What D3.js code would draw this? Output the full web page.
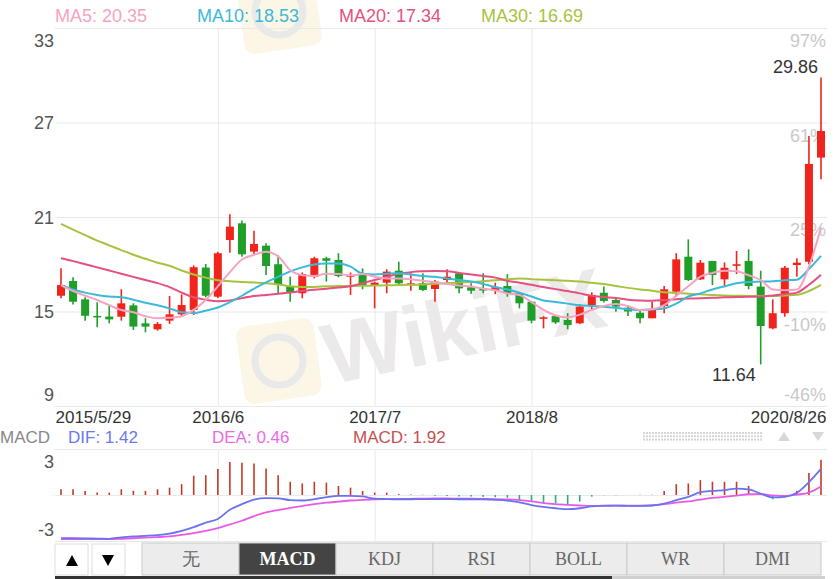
<html>
<head>
<script src="https://d3js.org/d3.v7.min.js"></script>
<style>
  body { margin: 0; background: #fff; }
  text { font-family: "Liberation Sans", Arial, sans-serif; }
  .grid line { stroke: #e9e9e9; stroke-width: 1; }
  .grid .domain { stroke: none; }
  .lbl .domain { stroke: none; }
  .tab text { font-family: "Liberation Serif", "Times New Roman", serif; }
</style>
</head>
<body>
<svg id="k" width="837" height="579"></svg>
<script>
// monthly candles, 2015/5 .. 2020/8
const months = [
  "2015/5","2015/6","2015/7","2015/8","2015/9","2015/10","2015/11","2015/12",
  "2016/1","2016/2","2016/3","2016/4","2016/5","2016/6","2016/7","2016/8","2016/9","2016/10","2016/11","2016/12",
  "2017/1","2017/2","2017/3","2017/4","2017/5","2017/6","2017/7","2017/8","2017/9","2017/10","2017/11","2017/12",
  "2018/1","2018/2","2018/3","2018/4","2018/5","2018/6","2018/7","2018/8","2018/9","2018/10","2018/11","2018/12",
  "2019/1","2019/2","2019/3","2019/4","2019/5","2019/6","2019/7","2019/8","2019/9","2019/10","2019/11","2019/12",
  "2020/1","2020/2","2020/3","2020/4","2020/5","2020/6","2020/7","2020/8"
];
const open  = [16.0,16.94,15.77,14.72,14.68,14.67,15.39,14.25,13.87,14.42,14.82,15.1,17.79,15.94,19.54,20.6,18.8,19.18,18.0,16.58,
  16.16,17.21,18.38,18.27,17.21,17.38,16.68,16.83,17.59,16.74,16.79,16.43,17.0,17.43,16.54,16.43,16.32,16.62,16.16,15.62,
  14.55,14.71,14.46,14.25,15.41,16.19,15.73,15.24,14.92,14.57,15.35,16.26,18.48,17.04,18.21,17.04,17.9,18.21,16.58,13.93,
  14.89,17.95,18.16,24.77];
const close = [16.68,15.62,14.73,14.65,14.5,15.52,14.04,14.04,14.21,14.82,15.41,17.81,16.0,18.7,20.39,18.63,19.29,17.89,16.68,16.19,
  17.38,18.38,18.22,17.25,17.32,16.68,16.83,17.53,16.79,16.79,16.37,16.9,17.21,16.47,16.32,16.37,16.54,16.16,15.52,14.42,
  14.63,14.31,14.14,15.31,16.05,15.67,15.31,15.0,14.57,15.1,16.41,18.31,17.0,18.1,17.32,17.78,18.0,16.62,14.08,14.89,
  17.78,18.1,24.37,26.46];
const high  = [17.74,17.17,15.9,15.58,15.39,16.41,15.52,14.57,14.33,15.98,16.09,17.93,18.02,18.8,21.17,20.77,20.13,19.33,18.59,17.21,
  17.48,18.48,18.48,18.7,17.48,17.74,16.9,17.68,18.16,17.43,17.43,17.0,17.68,17.5,16.79,17.43,16.83,17.37,16.2,15.65,
  14.7,14.78,14.89,15.46,16.22,16.58,15.8,15.4,15.1,15.62,16.62,18.7,19.58,18.27,18.21,18.12,18.84,18.95,17.59,15.77,
  17.89,18.38,26.14,29.86];
const low   = [15.84,15.45,14.42,14.0,14.25,14.42,13.83,13.68,13.78,14.21,14.67,14.78,15.9,15.85,18.73,18.48,18.59,17.32,16.16,15.62,
  15.84,17.1,16.9,17.17,16.05,16.41,15.2,16.16,16.68,16.32,16.3,15.62,16.83,16.16,16.13,16.16,16.1,15.94,15.2,14.25,
  13.93,14.21,13.87,14.2,15.14,15.57,14.99,14.71,14.25,14.57,14.89,15.94,16.94,17.0,16.68,16.54,17.38,16.41,11.64,13.87,
  14.67,17.21,18.0,23.39];

const ma5  = [16.68,16.3,16.0,15.73,15.4,15.1,14.95,14.7,14.57,14.6,14.7,15.1,15.73,16.6,17.5,18.3,18.6,18.8,18.5,17.63,
  17.3,17.25,17.4,17.38,17.3,17.38,17.2,17.1,17.1,17.05,16.95,16.85,16.75,16.65,16.58,16.45,16.35,16.15,16.05,15.6,
  15.1,14.75,14.63,14.8,15.1,15.35,15.48,15.35,15.1,15.15,15.41,16.0,16.6,17.21,17.45,17.59,17.55,17.3,17.0,16.4,
  16.35,16.4,17.84,20.35];
const ma10 = [16.68,16.4,16.2,16.05,15.95,15.9,15.75,15.55,15.4,15.2,14.95,14.9,15.05,15.25,15.6,16.0,16.45,16.85,17.2,17.55,
  17.8,17.98,18.05,18.05,17.85,17.4,17.35,17.4,17.43,17.35,17.25,17.2,17.1,17.0,16.9,16.75,16.55,16.4,16.2,15.95,
  15.7,15.6,15.5,15.4,15.35,15.3,15.22,15.15,15.1,15.12,15.2,15.5,15.95,16.15,16.4,16.6,16.8,16.88,16.9,16.92,
  16.98,17.02,17.7,18.53];
const ma20 = [18.38,18.2,18.0,17.8,17.6,17.4,17.2,17.0,16.8,16.55,16.2,15.9,15.75,15.65,15.7,15.85,15.98,16.05,16.12,16.2,
  16.3,16.38,16.45,16.52,16.6,16.8,17.0,17.2,17.4,17.5,17.55,17.57,17.55,17.45,17.35,17.25,17.15,16.95,16.83,16.7,
  16.55,16.42,16.3,16.15,16.0,15.92,15.85,15.75,15.7,15.68,15.72,15.78,15.82,15.84,15.87,15.9,15.92,15.94,15.95,16.02,
  16.1,16.2,16.7,17.34];
const ma30 = [20.56,20.2,19.85,19.5,19.2,18.9,18.6,18.35,18.1,17.9,17.6,17.35,17.15,16.98,16.92,16.88,16.84,16.8,16.72,16.6,
  16.55,16.56,16.6,16.62,16.62,16.63,16.65,16.66,16.68,16.7,16.72,16.76,16.8,16.84,16.88,16.92,16.98,17.05,17.1,17.05,
  17.02,16.98,16.95,16.9,16.82,16.74,16.62,16.5,16.4,16.32,16.22,16.18,16.12,16.09,16.05,16.02,16.0,15.99,15.98,15.98,
  16.02,16.06,16.3,16.69];

const dif  = [-2.34,-2.35,-2.36,-2.37,-2.38,-2.3,-2.25,-2.22,-2.18,-2.1,-1.95,-1.75,-1.5,-1.3,-0.8,-0.5,-0.25,-0.17,-0.18,-0.28,
  -0.3,-0.23,-0.12,-0.05,-0.05,-0.08,-0.2,-0.22,-0.23,-0.23,-0.22,-0.22,-0.22,-0.23,-0.23,-0.24,-0.26,-0.3,-0.4,-0.55,
  -0.65,-0.72,-0.77,-0.72,-0.62,-0.58,-0.58,-0.59,-0.59,-0.57,-0.47,-0.28,-0.1,0.15,0.22,0.27,0.35,0.3,0.08,-0.13,
  -0.1,0.12,0.7,1.42];
const dea  = [-2.4,-2.4,-2.4,-2.4,-2.4,-2.38,-2.35,-2.32,-2.29,-2.25,-2.17,-2.07,-1.95,-1.8,-1.6,-1.4,-1.15,-0.95,-0.82,-0.7,
  -0.6,-0.5,-0.42,-0.36,-0.3,-0.26,-0.23,-0.22,-0.22,-0.21,-0.2,-0.19,-0.19,-0.2,-0.2,-0.21,-0.22,-0.24,-0.28,-0.35,
  -0.44,-0.5,-0.54,-0.57,-0.59,-0.59,-0.58,-0.58,-0.58,-0.56,-0.5,-0.42,-0.35,-0.25,-0.16,-0.1,-0.03,0.04,0.05,-0.02,
  -0.05,0.02,0.13,0.46];
const macd = [0.31,0.31,0.22,0.13,0.13,0.31,0.23,0.22,0.31,0.4,0.59,1.05,1.08,1.41,1.8,1.75,1.71,1.44,1.08,0.72,
  0.63,0.72,0.67,0.49,0.4,0.22,0.13,0.13,0.05,0.03,0.02,-0.04,-0.06,-0.08,-0.08,-0.1,-0.12,-0.15,-0.27,-0.36,
  -0.41,-0.45,-0.54,-0.36,-0.09,-0.02,-0.01,0.0,0.02,0.01,0.22,0.59,0.63,0.81,0.72,0.72,0.72,0.49,0.05,-0.23,
  -0.02,0.23,1.2,1.92];

const priceTicks = [9, 15, 21, 27, 33];
const pctLabels = ["-46%", "-10%", "25%", "61%", "97%"];
const xTickIdx = [0, 13, 26, 39, 63];
const xTickLabels = ["2015/5/29", "2016/6", "2017/7", "2018/8", "2020/8/26"];
const gridIdx = [13, 26, 39];
const maNames = ["MA5", "MA10", "MA20", "MA30"];
const macdRange = [-2.5, 2.5];
const macdTickLabels = ["-3", "3"];
const tabs = ["无", "MACD", "KDJ", "RSI", "BOLL", "WR", "DMI"];

const svg = d3.select("svg#k");
const left = 55, right = 827;
const top1 = 28, bot1 = 406, top2 = 449, bot2 = 541;
const red = "#f0241a", green = "#1f9e2a";
const maColors = ["#f5a3c2", "#3bb9d9", "#e6507f", "#a7c33e"];

const x = d3.scaleLinear().domain([0, months.length - 1]).range([61, 821]);
const y = d3.scaleLinear().domain([9, 33]).range([bot1, top1]);
const ym = d3.scaleLinear().domain(macdRange).range([bot2, top2]);

svg.append("rect").attr("width", 837).attr("height", 579).attr("fill", "#fff");

// watermark: logo repeats at the top, text only in the chart body
[0, -350].forEach(dy => {
  const w = svg.append("g").attr("transform", "translate(0," + dy + ")").attr("opacity", 0.4);
  w.append("rect").attr("x", 240).attr("y", 322).attr("width", 78).attr("height", 78).attr("rx", 10)
    .attr("fill", "#f6e9c2").attr("transform", "rotate(-8,279,361)");
  w.append("circle").attr("cx", 279).attr("cy", 361).attr("r", 24).attr("fill", "none")
    .attr("stroke", "#c9c9c9").attr("stroke-width", 7);
});
svg.append("text").text("WikiFX").attr("x", 330).attr("y", 385)
  .attr("transform", "rotate(-12,330,385)").attr("opacity", 0.4)
  .style("font-size", "86px").style("font-weight", "bold").attr("fill", "#cfc9c9");

// grids
svg.append("g").attr("class", "grid").attr("transform", "translate(" + left + ",0)")
  .call(d3.axisLeft(y).tickValues(priceTicks).tickSize(-(right - left)).tickFormat(""));
svg.append("g").attr("class", "grid").attr("transform", "translate(0," + bot1 + ")")
  .call(d3.axisBottom(x).tickValues(gridIdx).tickSize(-(bot1 - top1)).tickFormat(""));
svg.append("g").attr("class", "grid").attr("transform", "translate(" + left + ",0)")
  .call(d3.axisLeft(ym).tickValues([macdRange[0], 0, macdRange[1]]).tickSize(-(right - left)).tickFormat(""));
svg.append("g").attr("class", "grid").attr("transform", "translate(0," + bot2 + ")")
  .call(d3.axisBottom(x).tickValues(gridIdx).tickSize(-(bot2 - top2)).tickFormat(""));

// left price labels
const yl = svg.append("g").attr("class", "lbl").attr("transform", "translate(" + (left - 1) + ",0)")
  .call(d3.axisLeft(y).tickValues(priceTicks).tickSize(0).tickPadding(0));
yl.selectAll("text").style("font-size", "18px").attr("fill", "#555")
  .attr("dy", d => d === 33 ? "1.05em" : d === 9 ? "-0.3em" : "0.35em");

// right percent labels
const yr = svg.append("g").attr("class", "lbl").attr("transform", "translate(" + (right - 1) + ",0)")
  .call(d3.axisLeft(y).tickValues(priceTicks).tickSize(0).tickPadding(0)
    .tickFormat((d, i) => pctLabels[i]));
yr.selectAll("text").style("font-size", "18px").attr("fill", "#c9c9c9")
  .attr("dy", d => d === 9 ? "-0.3em" : "1.05em");

// x labels
const xl = svg.append("g").attr("class", "lbl").attr("transform", "translate(0," + bot1 + ")")
  .call(d3.axisBottom(x).tickValues(xTickIdx).tickSize(0).tickPadding(5)
    .tickFormat((d, i) => xTickLabels[i]));
xl.selectAll("text").style("font-size", "17px").attr("fill", "#333")
  .attr("text-anchor", (d, i) => i === 0 ? "start" : i === xTickIdx.length - 1 ? "end" : "middle")
  .attr("dx", (d, i) => i === 0 ? -6 : i === xTickIdx.length - 1 ? 5 : 0);

// candles
const candles = svg.append("g").selectAll("g").data(months).join("g");
const col = i => close[i] >= open[i] ? red : green;
candles.append("line")
  .attr("x1", (d, i) => x(i)).attr("x2", (d, i) => x(i))
  .attr("y1", (d, i) => y(high[i])).attr("y2", (d, i) => y(low[i]))
  .attr("stroke", (d, i) => col(i)).attr("stroke-width", 1.6);
candles.append("rect")
  .attr("x", (d, i) => x(i) - 4).attr("width", 8)
  .attr("y", (d, i) => y(Math.max(open[i], close[i])))
  .attr("height", (d, i) => Math.max(1.5, Math.abs(y(open[i]) - y(close[i]))))
  .attr("fill", (d, i) => col(i));

// moving averages
[ma30, ma20, ma10, ma5].forEach((s, k) => {
  svg.append("path").datum(s)
    .attr("d", d3.line().x((d, i) => x(i)).y(d => y(d)).curve(d3.curveMonotoneX))
    .attr("fill", "none").attr("stroke", maColors[3 - k]).attr("stroke-width", 2);
});

// max / min notes
const iMax = d3.maxIndex(high), iMin = d3.minIndex(low);
svg.append("text").text(high[iMax].toFixed(2)).attr("x", x(iMax) - 3).attr("y", y(high[iMax]) - 4)
  .attr("text-anchor", "end").style("font-size", "18px").attr("fill", "#333");
svg.append("text").text(low[iMin].toFixed(2)).attr("x", x(iMin) - 5).attr("y", y(low[iMin]) + 17)
  .attr("text-anchor", "end").style("font-size", "18px").attr("fill", "#333");

// MA legend
const maLast = [ma5, ma10, ma20, ma30].map(s => s[s.length - 1]);
maNames.forEach((n, i) => {
  svg.append("text").text(n + ": " + maLast[i].toFixed(2))
    .attr("x", 55 + i * 142).attr("y", 22).style("font-size", "18px").attr("fill", maColors[i]);
});

// MACD panel
const ml = svg.append("g").attr("class", "lbl").attr("transform", "translate(" + (left - 1) + ",0)")
  .call(d3.axisLeft(ym).tickValues(macdRange).tickSize(0).tickPadding(0)
    .tickFormat((d, i) => macdTickLabels[i]));
ml.selectAll("text").style("font-size", "18px").attr("fill", "#555")
  .attr("dy", (d, i) => i === 0 ? "-0.3em" : "1.05em");

svg.append("g").selectAll("line").data(macd).join("line")
  .attr("x1", (d, i) => x(i)).attr("x2", (d, i) => x(i))
  .attr("y1", ym(0)).attr("y2", d => ym(d))
  .attr("stroke", d => d >= 0 ? "#c23a26" : "#26b07c").attr("stroke-width", 1.6);
svg.append("path").datum(dea)
  .attr("d", d3.line().x((d, i) => x(i)).y(d => ym(d)).curve(d3.curveMonotoneX))
  .attr("fill", "none").attr("stroke", "#e85ae6").attr("stroke-width", 1.8);
svg.append("path").datum(dif)
  .attr("d", d3.line().x((d, i) => x(i)).y(d => ym(d)).curve(d3.curveMonotoneX))
  .attr("fill", "none").attr("stroke", "#6a72f0").attr("stroke-width", 1.8);

// MACD legend
const n = macd.length - 1;
const lg = svg.append("g").style("font-size", "17px");
lg.append("text").text("MACD").attr("x", 0).attr("y", 443).attr("fill", "#888");
lg.append("text").text("DIF: " + dif[n].toFixed(2)).attr("x", 68).attr("y", 443).attr("fill", "#6a78f2");
lg.append("text").text("DEA: " + dea[n].toFixed(2)).attr("x", 212).attr("y", 443).attr("fill", "#ea6ae8");
lg.append("text").text("MACD: " + macd[n].toFixed(2)).attr("x", 353).attr("y", 443).attr("fill", "#c4504f");

// dotted scroller + arrows
const dots = svg.append("g").attr("fill", "#d6d6d6");
d3.range(3).forEach(r => d3.range(40).forEach(c => {
  dots.append("rect").attr("x", 643 + c * 3).attr("y", 432 + r * 3.3).attr("width", 2).attr("height", 2);
}));
svg.append("path").attr("d", "M778,441 L784,432 L790,441 Z").attr("fill", "#d8d8d8");
svg.append("path").attr("d", "M812,432 L824,432 L818,441 Z").attr("fill", "#d8d8d8");

// tab bar
svg.append("rect").attr("x", 55).attr("y", 544).attr("width", 33).attr("height", 31)
  .attr("fill", "#fff").attr("stroke", "#ddd");
svg.append("rect").attr("x", 92).attr("y", 544).attr("width", 33).attr("height", 31)
  .attr("fill", "#fff").attr("stroke", "#ddd");
svg.append("path").attr("d", "M66,566 L72,555 L78,566 Z").attr("fill", "#000");
svg.append("path").attr("d", "M102,555 L114,555 L108,566 Z").attr("fill", "#000");
const tab = svg.append("g").attr("class", "tab").selectAll("g").data(tabs).join("g");
tab.append("rect").attr("x", (d, i) => 142 + i * 97).attr("y", 543).attr("width", 97).attr("height", 32)
  .attr("fill", (d, i) => i === 1 ? "#444" : "#ececec").attr("stroke", "#c9c9c9");
tab.append("text").text(d => d).attr("x", (d, i) => 142 + i * 97 + 48.5).attr("y", 565)
  .attr("text-anchor", "middle").style("font-size", "18px")
  .style("font-weight", (d, i) => i === 1 ? "bold" : "normal")
  .attr("fill", (d, i) => i === 1 ? "#fff" : "#666");
svg.append("rect").attr("x", 55).attr("y", 576).attr("width", 557).attr("height", 3).attr("fill", "#333");
svg.append("rect").attr("x", 612).attr("y", 576).attr("width", 213).attr("height", 3).attr("fill", "#d0d0d0");
</script>
</body>
</html>
